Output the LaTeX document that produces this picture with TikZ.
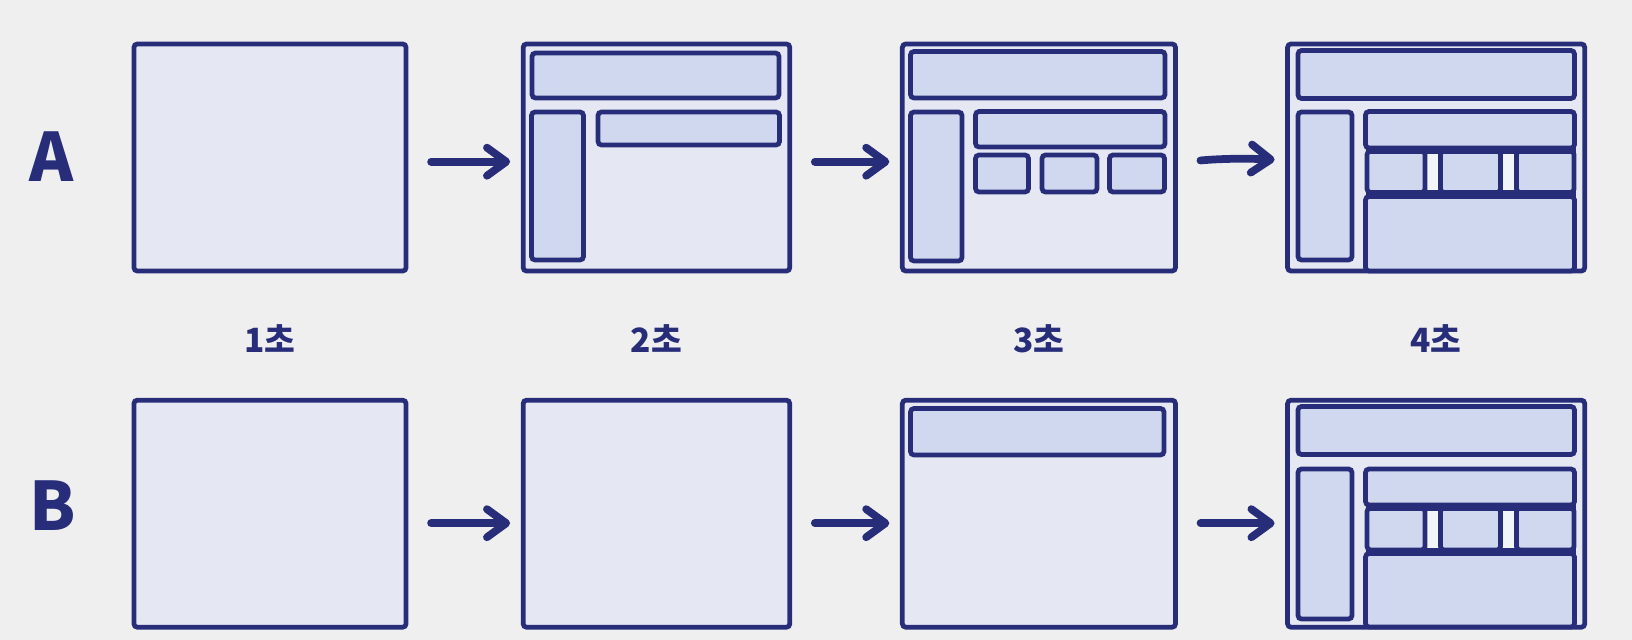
\documentclass[tikz,border=0pt]{standalone}
\usepackage{fontspec}
\newfontfamily\krfont{Noto Sans CJK KR}
\usetikzlibrary{calc,arrows.meta,positioning}
\definecolor{ink}{RGB}{40,45,122}
\definecolor{paper}{RGB}{239,239,240}
\definecolor{sheet}{RGB}{229,232,242}
\definecolor{panefill}{RGB}{207,216,238}
\definecolor{gapfill}{RGB}{243,244,247}

\begin{document}
\begin{tikzpicture}[x=0.01cm,y=-0.01cm,
  screen/.style={draw=ink,fill=sheet,line width=1.35pt,inner sep=0pt,outer sep=0pt,minimum height=2.27cm,rounded corners=1pt},
  panel/.style={draw=ink,fill=panefill,line width=1.35pt,rounded corners=1pt},
  band/.style={draw=ink,line width=2.4pt},
  flow/.style={draw=ink,line width=2.2pt,line cap=round,-{Straight Barb[length=5.5pt,width=8pt,round]},shorten <=0.25cm,shorten >=0.13cm},
  sec/.style={text=ink,font=\krfont\bfseries\fontsize{9.5}{10}\selectfont,yshift=-0.8pt},
  rowname/.style={text=ink,font=\krfont\bfseries\fontsize{19}{19}\selectfont}]
\fill[paper] (0,0) rectangle (1632,640);
% row A
\node[screen,minimum width=2.72cm] (a1) at (270,157.5) {};
\node[screen,minimum width=2.665cm] (a2) [right=1.17cm of a1] {};
\node[screen,minimum width=2.73cm] (a3) [right=1.125cm of a2] {};
\node[screen,minimum width=2.97cm] (a4) [right=1.12cm of a3] {};
% row B
\node[screen,minimum width=2.72cm] (b1) [below=1.29cm of a1] {};
\node[screen,minimum width=2.665cm] (b2) [right=1.17cm of b1] {};
\node[screen,minimum width=2.73cm] (b3) [right=1.125cm of b2] {};
\node[screen,minimum width=2.97cm] (b4) [right=1.12cm of b3] {};
% a2
\draw[panel] (532,53) rectangle (779,98);
\draw[panel] (531.5,112) rectangle (583.5,260);
\draw[panel] (598,112) rectangle (779.5,145);
% a3
\draw[panel] (910.5,51.5) rectangle (1165,98);
\draw[panel] (910.5,112) rectangle (962,261);
\draw[panel] (975.5,111.5) rectangle (1165,147);
\draw[panel] (975.5,155) rectangle (1028.5,192);
\draw[panel] (1042,155) rectangle (1097,192);
\draw[panel] (1109.5,155) rectangle (1164.5,192);
% a4
\draw[panel] (1298,50.5) rectangle (1574.5,98.5);
\draw[panel] (1298,112) rectangle (1352,260);
\fill[gapfill] (1365.5,147.5) rectangle (1574.5,196.5);
\draw[panel] (1365.5,196.5) rectangle (1574.5,271);
\draw[panel] (1365.5,111.5) rectangle (1574.5,148);
\draw[panel] (1367,151) rectangle (1425,192.5);
\draw[panel] (1440.5,151) rectangle (1500.5,192.5);
\draw[panel] (1516.5,151) rectangle (1574,192.5);
\draw[band] (1365.5,150) -- (1576,150);
\draw[band] (1365.5,194.5) -- (1576,194.5);
% b3
\draw[panel] (910.5,408.5) rectangle (1164,455);
% b4
\draw[panel] (1298,406.5) rectangle (1574.5,454.5);
\draw[panel] (1298,469) rectangle (1352,619);
\fill[gapfill] (1365.5,503.5) rectangle (1574.5,554.5);
\draw[panel] (1365.5,553.5) rectangle (1574.5,627);
\draw[panel] (1365.5,469) rectangle (1574.5,505);
\draw[panel] (1367,508) rectangle (1425,550);
\draw[panel] (1440.5,508) rectangle (1500.5,550);
\draw[panel] (1516.5,508) rectangle (1574,550);
\draw[band] (1365.5,507) -- (1576,507);
\draw[band] (1365.5,552) -- (1576,552);
% arrows
\draw[flow] ([yshift=-1.2pt]a1.east) -- ([yshift=-1.2pt]a2.west);
\draw[flow] ([yshift=-1.2pt]a2.east) -- ([yshift=-1.2pt]a3.west);
\draw[flow] ([yshift=-1.5pt]a3.east) to[bend left=4] ([yshift=-0.8pt]a4.west);
\draw[flow] ([yshift=-2.7pt]b1.east) -- ([yshift=-2.7pt]b2.west);
\draw[flow] ([yshift=-2.7pt]b2.east) -- ([yshift=-2.7pt]b3.west);
\draw[flow] ([yshift=-2.7pt]b3.east) -- ([yshift=-2.7pt]b4.west);
% labels
\node[rowname] (ra) at (52,157) {A};
\node[rowname] (rb) at (53,506) {B};
\node[sec] (t1) at ($(a1.south)!0.5!(b1.north)$) {1초};
\node[sec] (t2) at ($(a2.south)!0.5!(b2.north)$) {2초};
\node[sec] (t3) at ($(a3.south)!0.5!(b3.north)$) {3초};
\node[sec] (t4) at ($(a4.south)!0.5!(b4.north)$) {4초};
\end{tikzpicture}
\end{document}
